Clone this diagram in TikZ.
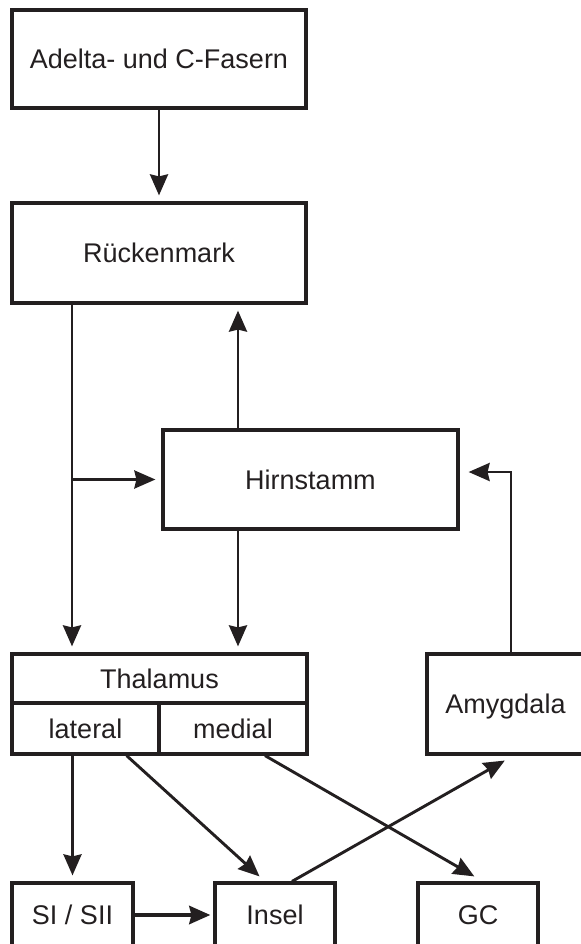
\documentclass[tikz,border=0pt]{standalone}
\usepackage{fontspec}
\setmainfont{Liberation Sans}
\usetikzlibrary{arrows.meta}
\definecolor{ink}{RGB}{35,31,32}

\begin{document}
\begin{tikzpicture}[x=0.5pt, y=-0.5pt, ink,
    box/.style={draw, line width=1.6pt, inner sep=0pt, text=ink,
        text height=9.7pt, text depth=0pt,
        font=\fontsize{13.5pt}{16pt}\selectfont},
    arr/.style={-{Stealth[length=10.5pt, width=9pt, inset=1pt]},
        line width=1.45pt, shorten >=3pt}]
    \useasboundingbox (0, 0) rectangle (581, 944);

    \node [box, minimum width=147pt, minimum height=49pt]   (fasern) at (159, 59)   {Adelta- und C-Fasern};
    \node [box, minimum width=147pt, minimum height=50pt]   (ruecken) at (159, 253) {Rückenmark};
    \node [box, minimum width=147.5pt, minimum height=49.5pt] (hirn) at (310.5, 479.5) {Hirnstamm};

    \node [box, minimum width=147.5pt, minimum height=24.5pt] (thal) at (159.5, 678.5) {Thalamus};
    \node [box, minimum width=73.5pt, minimum height=25.5pt]  (lat)  at (85.5, 728.5)  {lateral};
    \node [box, minimum width=74pt, minimum height=25.5pt]    (med)  at (233, 728.5)   {medial};
    \node [box, minimum width=78.5pt, minimum height=50pt]    (amyg) at (505.5, 704)   {Amygdala};

    \node [box, minimum width=60.5pt, minimum height=32pt] (si)    at (72.5, 915) {SI / SII};
    \node [box, minimum width=60pt, minimum height=32pt]   (insel) at (275, 915)  {Insel};
    \node [box, minimum width=60pt, minimum height=32pt]   (gc)    at (478, 915)  {GC};

    \coordinate (lcol) at (72, 0);
    \coordinate (mcol) at (238, 0);
    \coordinate (amygturn) at (511, 472);

    \draw [arr] (fasern.south) -- (ruecken.north);
    \draw [arr] (ruecken.south -| lcol) -- (thal.north -| lcol);
    \draw [arr] (hirn.west -| lcol) -- (hirn.west);
    \draw [arr] (hirn.north -| mcol) -- (ruecken.south -| mcol);
    \draw [arr] (hirn.south -| mcol) -- (thal.north -| mcol);
    \draw [arr, shorten >=4.5pt] (amyg.north -| amygturn) -- (amygturn) -- (amygturn -| hirn.east);

    \draw [arr] (si.north |- lat.south) -- (si.north);
    \draw [arr, shorten >=3.7pt] ([shift={(-34, 0)}]lat.south east) -- ([shift={(-10, 0)}]insel.north);
    \draw [arr, shorten >=5pt] ([shift={(32, 0)}]med.south) -- ([shift={(5, 0)}]gc.north);
    \draw [arr, shorten >=5pt] ([shift={(17, 0)}]insel.north) -- ([shift={(8, 0)}]amyg.south);
    \draw [arr, line width=2.1pt, shorten >=1.5pt] (si.east) -- (insel.west);
\end{tikzpicture}
\end{document}
